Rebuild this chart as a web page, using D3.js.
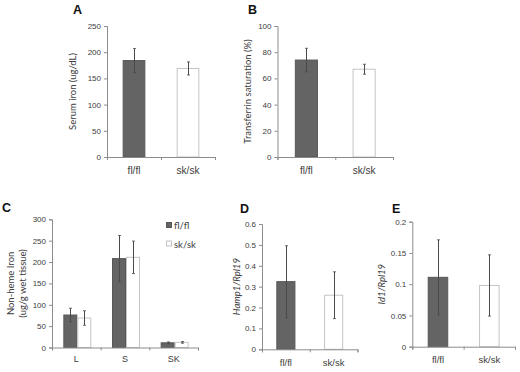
<!DOCTYPE html>
<html><head><meta charset="utf-8">
<script src="https://cdn.jsdelivr.net/npm/d3@7"></script>
<style>
body{margin:0;background:#fff;}
svg{display:block;font-family:Lato,"Open Sans",sans-serif;}
</style></head>
<body><svg id="c" width="520" height="372"></svg>
<script>
// ---- data ----
const groups = ["fl/fl", "sk/sk"];
const serumIron = [184, 169];
const serumIronSD = [23, 12.5];
const tsat = [74, 67];
const tsatSD = [9, 3.8];
const tissues = ["L", "S", "SK"];
const nonHemeFl = [76, 208, 11];
const nonHemeFlSD = [16, 54, 2];
const nonHemeSk = [69, 211, 12];
const nonHemeSkSD = [17, 38, 2];
const hamp = [0.324, 0.259];
const hampSD = [0.172, 0.112];
const id1 = [0.111, 0.098];
const id1SD = [0.06, 0.049];
const ticksA = [0, 50, 100, 150, 200, 250];
const ticksB = [0, 20, 40, 60, 80, 100];
const ticksC = [0, 50, 100, 150, 200, 250, 300];
const ticksD = [0, 0.1, 0.2, 0.3, 0.4, 0.5, 0.6];
const ticksE = [0, 0.05, 0.1, 0.15, 0.2];

const DARK = "#646464", DARKS = "#575757", LIGHT = "#ffffff", LIGHTS = "#c4c4c4",
  AXIS = "#8c8c8c", ERR = "#4a4a4a", TXT = "#3c3c3c";
const svg = d3.select("#c");

function panel(o) {
  const g = svg.append("g");
  const y = d3.scaleLinear().domain([0, o.ticks[o.ticks.length - 1]]).range([o.y0, o.y1]);
  const x = d3.scaleBand().domain(o.cats).range([o.x0, o.x1]);
  const bw = x.bandwidth();
  const inner = d3.scaleBand().domain(o.series.map((s, i) => i))
    .range([bw * (1 - o.groupFrac) / 2, bw * (1 + o.groupFrac) / 2]);

  o.series.forEach((s, si) => {
    o.cats.forEach((c, ci) => {
      const bx = x(c) + inner(si) + (o.shift || 0);
      const v = s.values[ci];
      g.append("rect").attr("x", bx + 0.5).attr("y", y(v)).attr("width", inner.bandwidth() - 1)
        .attr("height", y(0) - y(v)).attr("fill", s.fill[ci % s.fill.length])
        .attr("stroke", s.stroke[ci % s.stroke.length]).attr("stroke-width", 1);
    });
  });
  o.series.forEach((s, si) => {
    o.cats.forEach((c, ci) => {
      const cx = Math.round(x(c) + inner(si) + inner.bandwidth() / 2 + (o.shift || 0)) + 0.5;
      const v = s.values[ci], e = s.sd[ci];
      g.append("line").attr("x1", cx).attr("x2", cx).attr("y1", y(v - e)).attr("y2", y(v + e))
        .attr("stroke", ERR).attr("stroke-width", 1);
      [v - e, v + e].forEach(t => g.append("line").attr("x1", cx - 1.5).attr("x2", cx + 1.5)
        .attr("y1", y(t)).attr("y2", y(t)).attr("stroke", ERR).attr("stroke-width", 0.8));
    });
  });

  const ya = d3.axisLeft(y).tickValues(o.ticks).tickSize(3).tickPadding(3).tickFormat(d => String(d));
  const yg = g.append("g").attr("transform", `translate(${o.x0},0)`).call(ya);
  yg.select(".domain").attr("stroke", AXIS);
  yg.selectAll(".tick line").attr("stroke", AXIS);
  yg.selectAll("text").attr("fill", TXT).style("font-size", "8px");

  const xb = d3.scaleLinear().domain([0, o.cats.length]).range([o.x0, o.x1]);
  const xa = d3.axisBottom(xb).tickValues(d3.range(o.cats.length + 1)).tickSize(3).tickFormat("");
  const xg = g.append("g").attr("transform", `translate(0,${o.y0})`).call(xa);
  xg.select(".domain").attr("stroke", AXIS);
  xg.selectAll(".tick line").attr("stroke", AXIS);
  const xl = d3.axisBottom(x).tickSize(0).tickPadding(o.catPad);
  const xlg = g.append("g").attr("transform", `translate(0,${o.y0})`).call(xl);
  xlg.select(".domain").remove();
  xlg.selectAll("text").attr("fill", TXT).style("font-size", o.catSize + "px");

  const yl = g.append("text").attr("transform", `translate(${o.ylx},${(o.y0 + o.y1) / 2}) rotate(-90)`)
    .attr("text-anchor", "middle").attr("fill", TXT).style("font-size", "9.5px");
  o.ylabel.forEach((line, i) => {
    const t = yl.append("tspan").attr("x", 0).attr("dy", i === 0 ? 0 : "1.25em");
    line.forEach(p => t.append("tspan").text(p.t).style("font-style", p.i ? "italic" : "normal"));
  });

  svg.append("text").attr("x", o.tx).attr("y", o.ty).text(o.title)
    .style("font-family", "'Liberation Sans',Arial,sans-serif").style("font-weight", "bold")
    .style("font-size", "12.5px").attr("fill", "#111");
  return {x, y, g};
}

const pairFill = [DARK, LIGHT], pairStroke = [DARKS, LIGHTS];

panel({title: "A", tx: 73, ty: 14, x0: 107, x1: 215, y0: 157, y1: 26, ticks: ticksA, cats: groups,
  groupFrac: 0.42, catPad: 10, catSize: 10, ylx: 76, ylabel: [[{t: "Serum iron (ug/dL)"}]],
  series: [{values: serumIron, sd: serumIronSD, fill: pairFill, stroke: pairStroke}]});

panel({title: "B", tx: 248, ty: 14, x0: 277.5, x1: 393, y0: 157, y1: 26, ticks: ticksB, cats: groups,
  groupFrac: 0.4, catPad: 10, catSize: 10, ylx: 251, ylabel: [[{t: "Transferrin saturation (%)"}]],
  series: [{values: tsat, sd: tsatSD, fill: pairFill, stroke: pairStroke}]});

panel({title: "C", tx: 2, ty: 212, x0: 52, x1: 198, y0: 347.5, y1: 219.3, ticks: ticksC, cats: tissues,
  groupFrac: 0.575, shift: 1, catPad: 8, catSize: 9, ylx: 14,
  ylabel: [[{t: "Non-heme Iron"}], [{t: "(ug/g wet tissue)"}]],
  series: [{values: nonHemeFl, sd: nonHemeFlSD, fill: [DARK], stroke: [DARKS]},
           {values: nonHemeSk, sd: nonHemeSkSD, fill: [LIGHT], stroke: [LIGHTS]}]});

panel({title: "D", tx: 240, ty: 213, x0: 262, x1: 357.5, y0: 349.3, y1: 224, ticks: ticksD, cats: groups,
  groupFrac: 0.4, catPad: 10, catSize: 9.5, ylx: 240, ylabel: [[{t: "Hamp1/Rpl19", i: true}]],
  series: [{values: hamp, sd: hampSD, fill: pairFill, stroke: pairStroke}]});

panel({title: "E", tx: 392, ty: 213, x0: 412.3, x1: 515, y0: 346.7, y1: 221.7, ticks: ticksE, cats: groups,
  groupFrac: 0.4, catPad: 10, catSize: 9.5, ylx: 385, ylabel: [[{t: "Id1/Rpl19", i: true}]],
  series: [{values: id1, sd: id1SD, fill: pairFill, stroke: pairStroke}]});

// legend for C
const legend = [{t: "fl/fl", fill: DARK, stroke: DARKS}, {t: "sk/sk", fill: LIGHT, stroke: LIGHTS}];
const lg = svg.append("g").attr("transform", "translate(166,222)");
legend.forEach((d, i) => {
  const r = lg.append("g").attr("transform", `translate(0,${i * 18.5})`);
  r.append("rect").attr("x", 0.5).attr("y", 0.5).attr("width", 5).attr("height", 5)
    .attr("fill", d.fill).attr("stroke", d.stroke);
  r.append("text").attr("x", 8).attr("y", 7).text(d.t).attr("fill", TXT).style("font-size", "9.5px");
});
</script>
</body></html>
